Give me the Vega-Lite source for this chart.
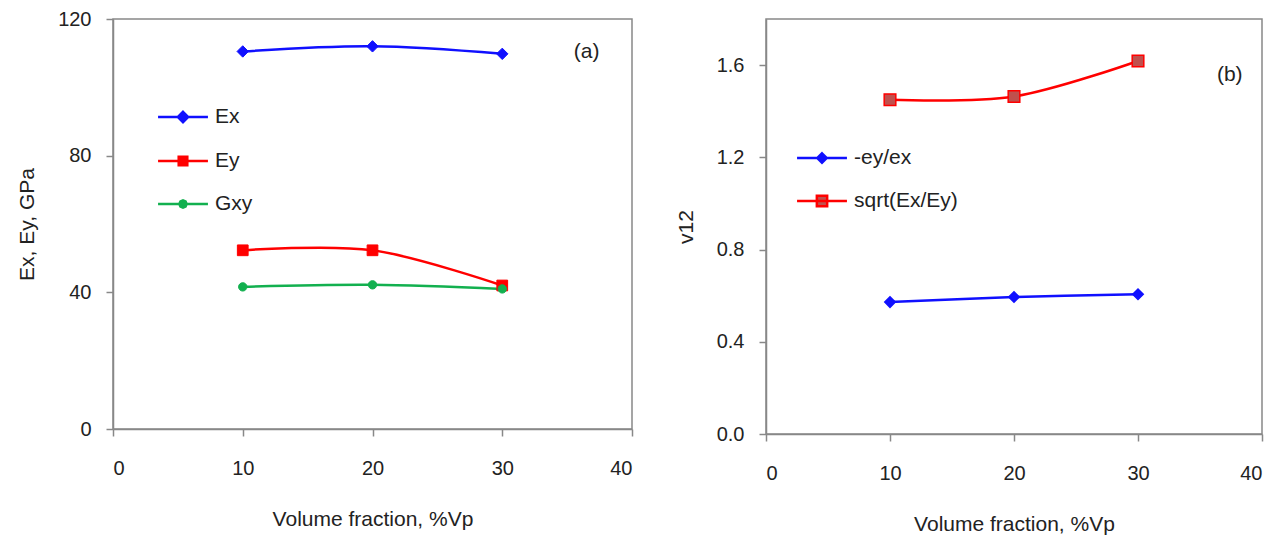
{
  "$schema": "https://vega.github.io/schema/vega-lite/v6.json",
  "padding": {"left": 15, "top": 8, "right": 5, "bottom": 0},
  "background": "white",
  "spacing": 40,
  "datasets": {
    "a": [
      {"vf": 10, "series": "Ex", "value": 110.5},
      {"vf": 20, "series": "Ex", "value": 112.0},
      {"vf": 30, "series": "Ex", "value": 109.8},
      {"vf": 10, "series": "Ey", "value": 52.3},
      {"vf": 20, "series": "Ey", "value": 52.3},
      {"vf": 30, "series": "Ey", "value": 42.0},
      {"vf": 10, "series": "Gxy", "value": 41.6},
      {"vf": 20, "series": "Gxy", "value": 42.2},
      {"vf": 30, "series": "Gxy", "value": 41.0}
    ],
    "b": [
      {"vf": 10, "series": "-ey/ex", "value": 0.572},
      {"vf": 20, "series": "-ey/ex", "value": 0.594},
      {"vf": 30, "series": "-ey/ex", "value": 0.606},
      {"vf": 10, "series": "sqrt(Ex/Ey)", "value": 1.450},
      {"vf": 20, "series": "sqrt(Ex/Ey)", "value": 1.464},
      {"vf": 30, "series": "sqrt(Ex/Ey)", "value": 1.618}
    ]
  },
  "config": {
    "font": "Liberation Sans",
    "view": {"stroke": "#888888", "strokeWidth": 1.5},
    "axis": {
      "grid": false,
      "domainColor": "#888888",
      "domainWidth": 1.5,
      "tickColor": "#888888",
      "tickWidth": 1.5,
      "tickSize": 7,
      "labelFont": "Liberation Sans",
      "labelFontSize": 20,
      "labelColor": "#222222",
      "titleFont": "Liberation Sans",
      "titleFontSize": 21,
      "titleFontWeight": "normal",
      "titleColor": "#222222"
    },
    "axisX": {"labelPadding": 22, "titlePadding": 30},
    "axisY": {"labelPadding": 15, "titlePadding": 20},
    "legend": {
      "orient": "none",
      "labelFont": "Liberation Sans",
      "labelFontSize": 21,
      "labelColor": "#222222",
      "symbolSize": 1849,
      "symbolStrokeWidth": 2.5,
      "symbolOpacity": 1,
      "labelOffset": 9,
      "rowPadding": 10
    }
  },
  "hconcat": [
    {
      "width": 519,
      "height": 410,
      "data": {"name": "a"},
      "encoding": {
        "x": {"field": "vf", "type": "quantitative", "scale": {"domain": [0, 40]}, "axis": {"values": [0, 10, 20, 30, 40], "title": "Volume fraction, %Vp"}},
        "y": {"field": "value", "type": "quantitative", "scale": {"domain": [0, 120]}, "axis": {"values": [0, 40, 80, 120], "title": "Ex, Ey, GPa"}}
      },
      "resolve": {"scale": {"fill": "independent", "stroke": "independent", "shape": "independent"}},
      "layer": [
        {
          "mark": {"type": "line", "interpolate": "cardinal", "strokeWidth": 2.5},
          "encoding": {
            "stroke": {"field": "series", "type": "nominal", "scale": {"domain": ["Ex", "Ey", "Gxy"], "range": ["#1010ff", "#ff0000", "#12b04f"]}, "legend": null}
          }
        },
        {
          "mark": {"type": "point", "filled": true, "opacity": 1, "strokeWidth": 1},
          "encoding": {
            "fill": {"field": "series", "type": "nominal", "scale": {"domain": ["Ex", "Ey", "Gxy"], "range": ["#1010ff", "#ff0000", "#12b04f"]}, "legend": null},
            "stroke": {"field": "series", "type": "nominal", "scale": {"domain": ["Ex", "Ey", "Gxy"], "range": ["#1010ff", "#ff0000", "#12b04f"]}, "legend": null},
            "shape": {"condition": [{"test": "datum.series === 'Ey'", "value": "square"}, {"test": "datum.series === 'Gxy'", "value": "circle"}], "value": "diamond"},
            "size": {"condition": [{"test": "datum.series === 'Ey'", "value": 115}, {"test": "datum.series === 'Gxy'", "value": 70}], "value": 130}
          }
        },
        {
          "transform": [{"filter": "false"}],
          "mark": {"type": "point", "filled": true, "opacity": 1},
          "encoding": {
            "fill": {"field": "series", "type": "nominal", "title": null, "scale": {"domain": ["Ex", "Ey", "Gxy"], "range": ["#1010ff", "#ff0000", "#12b04f"]}, "legend": {"legendX": 47, "legendY": 75}},
            "stroke": {"field": "series", "type": "nominal", "title": null, "scale": {"domain": ["Ex", "Ey", "Gxy"], "range": ["#1010ff", "#ff0000", "#12b04f"]}, "legend": {"legendX": 47, "legendY": 75}},
            "shape": {"field": "series", "type": "nominal", "title": null, "scale": {"domain": ["Ex", "Ey", "Gxy"], "range": [
              "M-1.16,0L1.16,0M0,-0.24L0.24,0L0,0.24L-0.24,0Z",
              "M-1.16,0L1.16,0M-0.2,-0.2L0.2,-0.2L0.2,0.2L-0.2,0.2Z",
              "M-1.16,0L1.16,0M-0.17,0L-0.12,-0.12L0,-0.17L0.12,-0.12L0.17,0L0.12,0.12L0,0.17L-0.12,0.12Z"
            ]}, "legend": {"legendX": 47, "legendY": 75}}
          }
        },
        {
          "data": {"values": [{"t": "(a)", "px": 36.5, "py": 110.3}]},
          "mark": {"type": "text", "fontSize": 21, "font": "Liberation Sans", "fill": "#222222"},
          "encoding": {"x": {"field": "px", "type": "quantitative"}, "y": {"field": "py", "type": "quantitative"}, "text": {"field": "t"}}
        }
      ]
    },
    {
      "width": 496,
      "height": 415,
      "data": {"name": "b"},
      "encoding": {
        "x": {"field": "vf", "type": "quantitative", "scale": {"domain": [0, 40]}, "axis": {"values": [0, 10, 20, 30, 40], "title": "Volume fraction, %Vp"}},
        "y": {"field": "value", "type": "quantitative", "scale": {"domain": [0, 1.8]}, "axis": {"values": [0, 0.4, 0.8, 1.2, 1.6], "format": ".1f", "title": "v12"}}
      },
      "resolve": {"scale": {"fill": "independent", "stroke": "independent", "shape": "independent"}},
      "layer": [
        {
          "mark": {"type": "line", "interpolate": "cardinal", "strokeWidth": 2.5},
          "encoding": {
            "stroke": {"field": "series", "type": "nominal", "scale": {"domain": ["-ey/ex", "sqrt(Ex/Ey)"], "range": ["#1010ff", "#ff0000"]}, "legend": null}
          }
        },
        {
          "mark": {"type": "point", "filled": true, "opacity": 1, "strokeWidth": 1.5},
          "encoding": {
            "fill": {"field": "series", "type": "nominal", "scale": {"domain": ["-ey/ex", "sqrt(Ex/Ey)"], "range": ["#1010ff", "#c0504d"]}, "legend": null},
            "stroke": {"field": "series", "type": "nominal", "scale": {"domain": ["-ey/ex", "sqrt(Ex/Ey)"], "range": ["#1010ff", "#ff0000"]}, "legend": null},
            "shape": {"condition": [{"test": "datum.series === 'sqrt(Ex/Ey)'", "value": "square"}], "value": "diamond"},
            "size": {"condition": [{"test": "datum.series === 'sqrt(Ex/Ey)'", "value": 135}], "value": 110}
          }
        },
        {
          "transform": [{"filter": "false"}],
          "mark": {"type": "point", "filled": true, "opacity": 1},
          "encoding": {
            "fill": {"field": "series", "type": "nominal", "title": null, "scale": {"domain": ["-ey/ex", "sqrt(Ex/Ey)"], "range": ["#1010ff", "#c0504d"]}, "legend": {"legendX": 33, "legendY": 116}},
            "stroke": {"field": "series", "type": "nominal", "title": null, "scale": {"domain": ["-ey/ex", "sqrt(Ex/Ey)"], "range": ["#1010ff", "#ff0000"]}, "legend": {"legendX": 33, "legendY": 116}},
            "shape": {"field": "series", "type": "nominal", "title": null, "scale": {"domain": ["-ey/ex", "sqrt(Ex/Ey)"], "range": [
              "M-1.16,0L1.16,0M0,-0.22L0.22,0L0,0.22L-0.22,0Z",
              "M-1.16,0L1.16,0M-0.24,-0.24L0.24,-0.24L0.24,0.24L-0.24,0.24Z"
            ]}, "legend": {"legendX": 33, "legendY": 116}}
          }
        },
        {
          "data": {"values": [{"t": "(b)", "px": 37.4, "py": 1.555}]},
          "mark": {"type": "text", "fontSize": 21, "font": "Liberation Sans", "fill": "#222222"},
          "encoding": {"x": {"field": "px", "type": "quantitative"}, "y": {"field": "py", "type": "quantitative"}, "text": {"field": "t"}}
        }
      ]
    }
  ]
}
